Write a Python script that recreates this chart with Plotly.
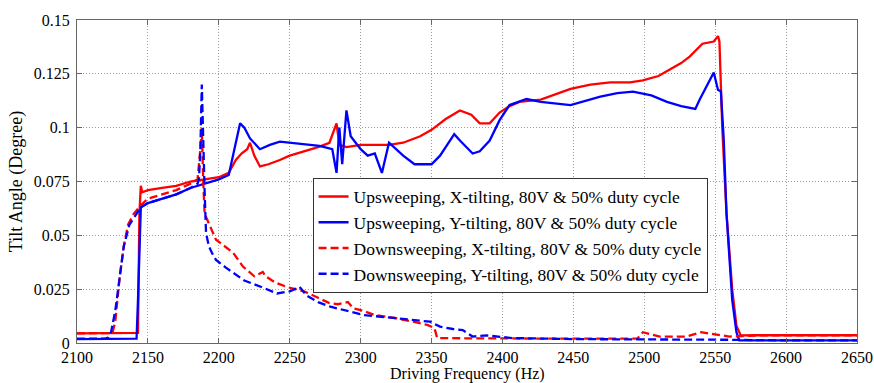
import plotly.graph_objects as go

# Upsweeping, X-tilting (red solid)
up_x_f = [2100, 2110, 2120, 2130, 2140, 2143, 2144, 2145, 2146, 2150, 2160, 2170, 2180, 2190, 2200, 2207,
          2212, 2216, 2220, 2222, 2225, 2229, 2235, 2243, 2250, 2260, 2270, 2278, 2283, 2285, 2290, 2300,
          2310, 2320, 2330, 2342, 2350, 2360, 2370, 2378, 2384, 2391, 2398, 2405, 2412, 2427, 2448, 2462,
          2476, 2490, 2499, 2510, 2518, 2526, 2532, 2541, 2549, 2552, 2553, 2555, 2558, 2562, 2565, 2568,
          2580, 2600, 2620, 2650]
up_x_v = [0.0045, 0.0045, 0.0046, 0.0046, 0.0047, 0.0047, 0.060, 0.073, 0.070, 0.071, 0.072, 0.073, 0.075, 0.076, 0.077, 0.079,
          0.085, 0.088, 0.090, 0.093, 0.087, 0.082, 0.083, 0.085, 0.087, 0.089, 0.091, 0.093, 0.102, 0.092, 0.091, 0.092,
          0.092, 0.092, 0.093, 0.096, 0.099, 0.104, 0.108, 0.106, 0.102, 0.102, 0.107, 0.110, 0.112, 0.113, 0.118, 0.120,
          0.121, 0.121, 0.122, 0.124, 0.127, 0.130, 0.133, 0.139, 0.140, 0.1425, 0.140, 0.100, 0.060, 0.025, 0.008, 0.0035,
          0.0036, 0.0036, 0.0036, 0.0036]

# Upsweeping, Y-tilting (blue solid)
up_y_f = [2100, 2110, 2120, 2130, 2140, 2142, 2143, 2144, 2145, 2150, 2160, 2170, 2180, 2190, 2200, 2207,
          2211, 2215, 2218, 2222, 2229, 2236, 2243, 2250, 2260, 2271, 2280, 2283, 2285, 2287, 2290, 2293,
          2300, 2305, 2310, 2315, 2320, 2325, 2330, 2338, 2345, 2350, 2356, 2362, 2366, 2370, 2379, 2384,
          2391, 2398, 2405, 2417, 2427, 2448, 2469, 2481, 2492, 2505, 2516, 2526, 2536, 2539, 2544, 2549,
          2552, 2554, 2556, 2558, 2562, 2565, 2567, 2580, 2600, 2620, 2650]
up_y_v = [0.0018, 0.0018, 0.0018, 0.0019, 0.0019, 0.002, 0.02, 0.045, 0.063, 0.065, 0.067, 0.069, 0.072, 0.074, 0.076, 0.078,
          0.090, 0.102, 0.100, 0.095, 0.090, 0.092, 0.0935, 0.093, 0.092, 0.0915, 0.090, 0.079, 0.100, 0.083, 0.108, 0.096,
          0.090, 0.087, 0.088, 0.079, 0.093, 0.090, 0.087, 0.083, 0.083, 0.083, 0.087, 0.093, 0.097, 0.094, 0.088, 0.089,
          0.094, 0.1035, 0.1105, 0.1133, 0.112, 0.1105, 0.1144, 0.116, 0.1167, 0.115, 0.112, 0.110, 0.1087, 0.113, 0.119, 0.1256,
          0.1175, 0.117, 0.095, 0.060, 0.020, 0.005, 0.0012, 0.0012, 0.0012, 0.0012, 0.0012]

# Downsweeping, X-tilting (red dashed)
dn_x_f = [2100, 2110, 2120, 2125, 2127, 2130, 2133, 2136, 2140, 2145, 2150, 2160, 2170, 2180, 2185, 2187,
          2188, 2189, 2190, 2192, 2198, 2210, 2217, 2225, 2231, 2233, 2240, 2248, 2260, 2270, 2278, 2284,
          2291, 2295, 2300, 2310, 2325, 2340, 2347, 2352, 2354, 2370, 2400, 2450, 2495, 2499, 2505, 2511,
          2530, 2540, 2560, 2580, 2620, 2650]
dn_x_v = [0.0045, 0.0045, 0.0045, 0.0046, 0.010, 0.030, 0.045, 0.055, 0.060, 0.064, 0.067, 0.069, 0.071, 0.074, 0.076, 0.090,
          0.100, 0.075, 0.060, 0.057, 0.048, 0.042, 0.0355, 0.031, 0.033, 0.031, 0.028, 0.026, 0.024, 0.021, 0.0185, 0.018,
          0.019, 0.016, 0.0153, 0.013, 0.0115, 0.0095, 0.0084, 0.007, 0.0023, 0.0022, 0.002, 0.002, 0.002, 0.005, 0.004, 0.003,
          0.003, 0.005, 0.003, 0.0035, 0.0035, 0.0035]

# Downsweeping, Y-tilting (blue dashed)
dn_y_f = [2100, 2110, 2120, 2122, 2124, 2127, 2130, 2133, 2137, 2142, 2145, 2150, 2160, 2170, 2180, 2185,
          2186, 2187, 2188, 2189, 2190, 2191, 2193, 2195, 2198, 2205, 2218, 2230, 2241, 2250, 2257, 2262,
          2270, 2278, 2290, 2302, 2325, 2349, 2356, 2365, 2372, 2379, 2389, 2407, 2450, 2500, 2560, 2600, 2650]
dn_y_v = [0.002, 0.002, 0.002, 0.0025, 0.005, 0.015, 0.030, 0.045, 0.055, 0.060, 0.063, 0.065, 0.067, 0.069, 0.072, 0.074,
          0.076, 0.090, 0.120, 0.090, 0.070, 0.051, 0.045, 0.042, 0.0386, 0.035, 0.029, 0.026, 0.023, 0.024, 0.026, 0.022,
          0.019, 0.017, 0.015, 0.013, 0.0115, 0.0099, 0.0076, 0.0065, 0.006, 0.003, 0.0035, 0.0023, 0.0018, 0.0018, 0.0015, 0.0012, 0.0012]

series_names = [
    "Upsweeping, X-tilting, 80V & 50% duty cycle",
    "Upsweeping, Y-tilting, 80V & 50% duty cycle",
    "Downsweeping, X-tilting, 80V & 50% duty cycle",
    "Downsweeping, Y-tilting, 80V & 50% duty cycle",
]

x_ticks = [2100, 2150, 2200, 2250, 2300, 2350, 2400, 2450, 2500, 2550, 2600, 2650]
y_ticks = [0, 0.025, 0.05, 0.075, 0.1, 0.125, 0.15]
y_tick_text = ["0", "0.025", "0.05", "0.075", "0.1", "0.125", "0.15"]
x_title = "Driving Frequency (Hz)"

RED = "#ff0000"
BLUE = "#0000ff"
DASH = "8px,4px"

fig = go.Figure()
fig.add_trace(go.Scatter(x=up_x_f, y=up_x_v, mode="lines", name=series_names[0],
                         line=dict(color=RED, width=2.3)))
fig.add_trace(go.Scatter(x=up_y_f, y=up_y_v, mode="lines", name=series_names[1],
                         line=dict(color=BLUE, width=2.3)))
fig.add_trace(go.Scatter(x=dn_x_f, y=dn_x_v, mode="lines", name=series_names[2],
                         line=dict(color=RED, width=2.3, dash=DASH)))
fig.add_trace(go.Scatter(x=dn_y_f, y=dn_y_v, mode="lines", name=series_names[3],
                         line=dict(color=BLUE, width=2.3, dash=DASH)))

font_family = "Liberation Serif"
axis_common = dict(
    showline=True, linecolor="#666666", linewidth=1, mirror="allticks",
    ticks="inside", ticklen=5, tickcolor="#666666",
    showgrid=True, gridcolor="#9a9a9a", griddash="1px,2px", gridwidth=1,
    zeroline=False, automargin=False,
    tickfont=dict(family=font_family, size=16, color="black"),
)

fig.update_layout(
    width=874, height=383,
    margin=dict(l=77, r=17, t=20, b=40),
    paper_bgcolor="white", plot_bgcolor="white",
    font=dict(family=font_family, size=16, color="black"),
    xaxis=dict(range=[2100, 2650], tickvals=x_ticks, **axis_common,
               ticklabelstandoff=0),
    yaxis=dict(range=[0, 0.15], tickvals=y_ticks, ticktext=y_tick_text, **axis_common,
               ticklabelstandoff=3,
               title=dict(text="Tilt Angle (Degree)", standoff=6,
                          font=dict(family=font_family, size=18))),
    legend=dict(x=0.302, y=0.334, xanchor="left", yanchor="middle",
                bgcolor="white", bordercolor="#333333", borderwidth=1,
                font=dict(family=font_family, size=17.5), tracegroupgap=0,
                itemwidth=30),
    showlegend=True,
)

fig.add_annotation(text=x_title, xref="paper", yref="paper", x=0.5, y=-0.13,
                   xanchor="center", yanchor="bottom", showarrow=False,
                   font=dict(family=font_family, size=16, color="black"))

fig.write_html("out.html")
